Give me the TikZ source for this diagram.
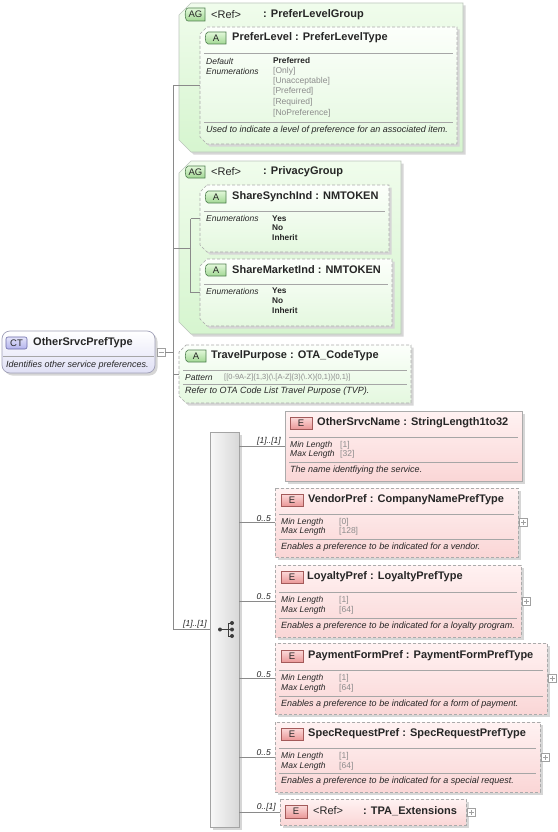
\documentclass[tikz,border=0pt]{standalone}
\usepackage{fontspec}
\setmainfont{Liberation Sans}
\usetikzlibrary{calc}
\definecolor{txt}{HTML}{262626}
\definecolor{valgray}{HTML}{8C8C8C}
\definecolor{lineg}{HTML}{8A8A8A}
\definecolor{sepg}{HTML}{A6A6A6}
\definecolor{dashg}{HTML}{ABABAB}
\definecolor{shadowg}{HTML}{D6D6D6}
\definecolor{agtop}{HTML}{F0FCEC}
\definecolor{agbot}{HTML}{D6F5CF}
\definecolor{agborder}{HTML}{BCC6BC}
\definecolor{atop}{HTML}{FCFFFB}
\definecolor{abot}{HTML}{E4F8DF}
\definecolor{etop}{HTML}{FFF2F2}
\definecolor{ebot}{HTML}{FAD6D6}
\definecolor{cttop}{HTML}{FFFFFF}
\definecolor{ctbot}{HTML}{E0E0F5}
\definecolor{ctborder}{HTML}{A0A0B8}
\definecolor{bAtop}{HTML}{E2F8DA}
\definecolor{bAbot}{HTML}{A2D894}
\definecolor{bAborder}{HTML}{4F7F4F}
\definecolor{bEtop}{HTML}{FCDADA}
\definecolor{bEbot}{HTML}{EA9898}
\definecolor{bEborder}{HTML}{A35A5A}
\definecolor{bCtop}{HTML}{E4E4FA}
\definecolor{bCbot}{HTML}{B2B2EC}
\definecolor{bCborder}{HTML}{6A6AA8}
\definecolor{seqL}{HTML}{F8F8F8}
\definecolor{seqR}{HTML}{D8D8D8}
\definecolor{seqB}{HTML}{A4A4A4}
\definecolor{pmg}{HTML}{A0A0A0}
\definecolor{icon}{HTML}{3C3C3C}

\newcommand\areanode[5]{\node[area, minimum width={(#4-#2)*1pt}, minimum height={(#5-#3)*1pt}] (#1) at ({(#2+#4)/2},{(#3+#5)/2}) {};}
\newcommand\chamshape[3]{\path[#3] ([xshift=#2pt]#1.north west) -- (#1.north east) -- (#1.south east) -- ([xshift=#2pt]#1.south west) -- ([yshift=#2pt]#1.south west) -- ([yshift=-#2pt]#1.north west) -- cycle;}
\newcommand\rectshape[2]{\path[#2] (#1.north west) rectangle (#1.south east);}
\newcommand\tabbadge[7]{%
  \path[#2] (#3+4,#4) -- (#5,#4) -- (#5,#6) -- (#3+4,#6) .. controls (#3+0.3,#6) and (#3+0.3,#4) .. (#3+4,#4) -- cycle;
  \node[bdgt] (#1) at ({(#3+#5)/2+1},{(#4+#6)/2}) {#7};}
\newcommand\rbadge[7]{%
  \path[#2] (#3,#4) rectangle (#5,#6);
  \node[bdgt] (#1) at ({(#3+#5)/2},{(#4+#6)/2}) {#7};}
\newcommand\plusbox[2]{%
  \node[area, pm, minimum size=8pt] (#1) at (#2) {};
  \draw[pmline] ([xshift=-2.5pt]#1.center) -- ([xshift=2.5pt]#1.center) ([yshift=-2.5pt]#1.center) -- ([yshift=2.5pt]#1.center);}
\newcommand\minusbox[2]{%
  \node[area, pm, minimum size=8pt] (#1) at (#2) {};
  \draw[pmline] ([xshift=-2.5pt]#1.center) -- ([xshift=2.5pt]#1.center);}

\tikzset{
  area/.style={inner sep=0pt, outer sep=0pt, draw=none, rectangle},
  conn/.style={draw=lineg, line width=0.7pt},
  shadowf/.style={fill=shadowg, draw=none, transform canvas={shift={(2.5pt,-2.5pt)}}},
  agfill/.style={top color=agtop, bottom color=agbot, draw=agborder, line width=0.7pt},
  afill/.style={top color=atop, bottom color=abot, draw=dashg, dash pattern=on 3pt off 2pt, line width=0.7pt},
  efill/.style={top color=etop, bottom color=ebot, draw=dashg, line width=0.7pt},
  edash/.style={efill, dash pattern=on 3pt off 2pt},
  ctfill/.style={top color=cttop, bottom color=ctbot, draw=ctborder, line width=0.7pt, rounded corners=8pt},
  seqfill/.style={left color=seqL, right color=seqR, draw=seqB, line width=0.7pt},
  sepl/.style={draw=sepg, line width=0.6pt},
  ttl/.style={anchor=west, inner sep=0pt, text=txt, font=\fontsize{11}{13}\selectfont\bfseries},
  reft/.style={anchor=west, inner sep=0pt, text=txt, font=\fontsize{11}{13}\selectfont},
  lbl/.style={anchor=west, inner sep=0pt, text=txt, font=\fontsize{8.5}{10}\selectfont\itshape},
  gval/.style={anchor=west, inner sep=0pt, text=valgray, font=\fontsize{8.5}{10}\selectfont},
  pval/.style={anchor=west, inner sep=0pt, text=valgray, font=\fontsize{7.5}{9}\selectfont},
  bval/.style={anchor=west, inner sep=0pt, text=txt, font=\fontsize{8.3}{10}\selectfont\bfseries},
  dsc/.style={anchor=west, inner sep=0pt, text=txt, font=\fontsize{9}{10.5}\selectfont\itshape},
  card/.style={anchor=south east, inner sep=1pt, text=txt, font=\fontsize{8.5}{10}\selectfont\itshape},
  bdgt/.style={inner sep=0pt, text=txt, font=\fontsize{9.5}{10}\selectfont},
  badgeA/.style={top color=bAtop, bottom color=bAbot, draw=bAborder, line width=0.6pt},
  badgeE/.style={top color=bEtop, bottom color=bEbot, draw=bEborder, line width=0.6pt},
  badgeC/.style={top color=bCtop, bottom color=bCbot, draw=bCborder, line width=0.6pt, rounded corners=2pt},
  pm/.style={draw=pmg, fill=white, line width=0.5pt},
  pmline/.style={draw=pmg, line width=0.5pt},
}

\begin{document}
\begin{tikzpicture}[x=1pt,y=-1pt]
\useasboundingbox (0,0) rectangle (557,832);
\fill[white] (0,0) rectangle (557,832);

% ---------- AG PreferLevelGroup ----------
\areanode{ag1}{179}{3}{463}{152}
\chamshape{ag1}{12}{shadowf}
\chamshape{ag1}{12}{agfill}
\tabbadge{agb1}{badgeA}{184}{8}{205}{21}{AG}
\node[reft] (ag1ref) at (211,14.5) {<Ref>};
\node[ttl] (ag1name) at (263,14.5) {: PreferLevelGroup};

\areanode{pl}{200}{27}{457}{144}
\chamshape{pl}{7}{shadowf}
\chamshape{pl}{7}{afill}
\tabbadge{plb}{badgeA}{204}{32}{226}{44}{A}
\node[ttl] (pltitle) at (232,38) {PreferLevel : PreferLevelType};
\draw[sepl] (204,53) -- (453,53);
\node[lbl] (pldef) at (206,61) {Default};
\node[lbl] (plenum) at (206,71) {Enumerations};
\node[bval] (plv0) at (273,61) {Preferred};
\node[gval] (plv1) at (273,71) {[Only]};
\node[gval] (plv2) at (273,81) {[Unacceptable]};
\node[gval] (plv3) at (273,91.5) {[Preferred]};
\node[gval] (plv4) at (273,102) {[Required]};
\node[gval] (plv5) at (273,113) {[NoPreference]};
\draw[sepl] (204,122) -- (453,122);
\node[dsc] (pldesc) at (206,130) {Used to indicate a level of preference for an associated item.};

% ---------- AG PrivacyGroup ----------
\areanode{ag2}{179}{161}{401}{334}
\chamshape{ag2}{12}{shadowf}
\chamshape{ag2}{12}{agfill}
\tabbadge{agb2}{badgeA}{184}{166}{205}{178}{AG}
\node[reft] (ag2ref) at (211,172) {<Ref>};
\node[ttl] (ag2name) at (263,172) {: PrivacyGroup};

\areanode{ssi}{200}{185}{389}{252}
\chamshape{ssi}{7}{shadowf}
\chamshape{ssi}{7}{afill}
\tabbadge{ssib}{badgeA}{204}{191}{226}{203}{A}
\node[ttl] (ssititle) at (232,197) {ShareSynchInd : NMTOKEN};
\draw[sepl] (204,211) -- (385,211);
\node[lbl] (ssienum) at (206,218.5) {Enumerations};
\node[bval] (ssiv1) at (272,218.5) {Yes};
\node[bval] (ssiv2) at (272,228) {No};
\node[bval] (ssiv3) at (272,238) {Inherit};

\areanode{smi}{200}{259}{392}{326}
\chamshape{smi}{7}{shadowf}
\chamshape{smi}{7}{afill}
\tabbadge{smib}{badgeA}{204}{264}{226}{276}{A}
\node[ttl] (smititle) at (232,270) {ShareMarketInd : NMTOKEN};
\draw[sepl] (204,284) -- (388,284);
\node[lbl] (smienum) at (206,291) {Enumerations};
\node[bval] (smiv1) at (272,291) {Yes};
\node[bval] (smiv2) at (272,301) {No};
\node[bval] (smiv3) at (272,311) {Inherit};

% ---------- TravelPurpose ----------
\areanode{tp}{179}{345}{411}{403}
\chamshape{tp}{7}{shadowf}
\chamshape{tp}{7}{afill}
\tabbadge{tpb}{badgeA}{184}{350}{206}{362}{A}
\node[ttl] (tptitle) at (211,356) {TravelPurpose : OTA\_CodeType};
\draw[sepl] (183,370.5) -- (407,370.5);
\node[lbl] (tppat) at (185,377.5) {Pattern};
\node[pval] (tppatv) at (224,377.5) {[[0-9A-Z]\{1,3\}(\textbackslash.[A-Z]\{3\}(\textbackslash.X)\{0,1\})\{0,1\}]};
\draw[sepl] (183,384) -- (407,384);
\node[dsc] (tpdesc) at (185,391.5) {Refer to OTA Code List Travel Purpose (TVP).};

% ---------- Complex type ----------
\areanode{ct}{2}{331}{155}{373}
\path[fill=shadowg, rounded corners=8pt, transform canvas={shift={(2.5pt,-2.5pt)}}] (ct.north west) rectangle (ct.south east);
\rectshape{ct}{ctfill}
\rbadge{ctb}{badgeC}{6}{337}{27}{349}{CT}
\node[ttl] (cttitle) at (33,343) {OtherSrvcPrefType};
\draw[sepl] (3,356.5) -- (154,356.5);
\node[dsc] (ctdesc) at (6,365) {Identifies other service preferences.};
\minusbox{ctm}{[xshift=6pt]ct.east}

% ---------- Sequence ----------
\areanode{seq}{210}{432}{239}{827}
\rectshape{seq}{shadowf}
\rectshape{seq}{seqfill}
\fill[icon] (220,629.5) circle (2);
\draw[icon, line width=0.9pt] (220,629.5) -- (232,629.5) (228,623) -- (228,636)
  (228,623) -- (232,623) (228,636) -- (232,636);
\fill[icon] (232,623) circle (2) (232,629.5) circle (2) (232,636) circle (2);

% ---------- Elements ----------
\areanode{osn}{285}{411}{522}{481}
\rectshape{osn}{shadowf}
\rectshape{osn}{efill}
\rbadge{osnb}{badgeE}{290}{417}{312}{429}{E}
\node[ttl] (osntitle) at (317,423) {OtherSrvcName : StringLength1to32};
\draw[sepl] (289,437) -- (518,437);
\node[lbl] (osnmin) at (290,445) {Min Length};
\node[lbl] (osnmax) at (290,454) {Max Length};
\node[gval] (osnminv) at (340,445) {[1]};
\node[gval] (osnmaxv) at (340,454) {[32]};
\draw[sepl] (289,462) -- (518,462);
\node[dsc] (osndesc) at (290,470) {The name identfiying the service.};

\areanode{vp}{275}{488}{518}{557}
\rectshape{vp}{shadowf}
\rectshape{vp}{edash}
\rbadge{vpb}{badgeE}{281}{494}{303}{506}{E}
\node[ttl] (vptitle) at (308,500) {VendorPref : CompanyNamePrefType};
\draw[sepl] (279,514) -- (514,514);
\node[lbl] (vpmin) at (281,522) {Min Length};
\node[lbl] (vpmax) at (281,531.5) {Max Length};
\node[gval] (vpminv) at (339,522) {[0]};
\node[gval] (vpmaxv) at (339,531.5) {[128]};
\draw[sepl] (279,539.5) -- (514,539.5);
\node[dsc] (vpdesc) at (281,547.5) {Enables a preference to be indicated for a vendor.};
\plusbox{vpp}{[xshift=5.5pt]vp.east}

\areanode{lp}{275}{565}{521}{637}
\rectshape{lp}{shadowf}
\rectshape{lp}{edash}
\rbadge{lpb}{badgeE}{281}{571}{303}{583}{E}
\node[ttl] (lptitle) at (307,577) {LoyaltyPref : LoyaltyPrefType};
\draw[sepl] (279,592) -- (517,592);
\node[lbl] (lpmin) at (281,600) {Min Length};
\node[lbl] (lpmax) at (281,610) {Max Length};
\node[gval] (lpminv) at (339,600) {[1]};
\node[gval] (lpmaxv) at (339,610) {[64]};
\draw[sepl] (279,618) -- (517,618);
\node[dsc] (lpdesc) at (281,626) {Enables a preference to be indicated for a loyalty program.};
\plusbox{lpp}{[xshift=5.5pt]lp.east}

\areanode{pfp}{275}{643}{547}{714}
\rectshape{pfp}{shadowf}
\rectshape{pfp}{edash}
\rbadge{pfpb}{badgeE}{281}{650}{303}{662}{E}
\node[ttl] (pfptitle) at (308,656) {PaymentFormPref : PaymentFormPrefType};
\draw[sepl] (279,670) -- (543,670);
\node[lbl] (pfpmin) at (281,678) {Min Length};
\node[lbl] (pfpmax) at (281,688) {Max Length};
\node[gval] (pfpminv) at (339,678) {[1]};
\node[gval] (pfpmaxv) at (339,688) {[64]};
\draw[sepl] (279,696) -- (543,696);
\node[dsc] (pfpdesc) at (281,704) {Enables a preference to be indicated for a form of payment.};
\plusbox{pfpp}{[xshift=5.5pt]pfp.east}

\areanode{srp}{275}{722}{540}{792}
\rectshape{srp}{shadowf}
\rectshape{srp}{edash}
\rbadge{srpb}{badgeE}{281}{728}{303}{740}{E}
\node[ttl] (srptitle) at (308,734) {SpecRequestPref : SpecRequestPrefType};
\draw[sepl] (279,748.5) -- (536,748.5);
\node[lbl] (srpmin) at (281,756.5) {Min Length};
\node[lbl] (srpmax) at (281,766) {Max Length};
\node[gval] (srpminv) at (339,756.5) {[1]};
\node[gval] (srpmaxv) at (339,766) {[64]};
\draw[sepl] (279,773.5) -- (536,773.5);
\node[dsc] (srpdesc) at (281,781.5) {Enables a preference to be indicated for a special request.};
\plusbox{srpp}{[xshift=5.5pt]srp.east}

\areanode{tpa}{280}{799}{466}{825}
\rectshape{tpa}{shadowf}
\rectshape{tpa}{edash}
\rbadge{tpab}{badgeE}{285}{805}{307}{818}{E}
\node[reft] (tparef) at (313,811) {<Ref>};
\node[ttl] (tpaname) at (363,811) {: TPA\_Extensions};
\plusbox{tpap}{[xshift=5.5pt]tpa.east}

% ---------- Connectors ----------
\coordinate (trk) at (173,85.5);
\draw[conn] (trk) -- (trk |- seq.west);
\draw[conn] (ctm.east) -- (ctm.east -| trk);
\draw[conn] (pl.west -| trk) -- (pl.west);
\coordinate (br2) at (190.5,248);
\draw[conn] (br2 -| trk) -- (br2);
\draw[conn] (ssi.west -| br2) -- (smi.west -| br2);
\draw[conn] (ssi.west -| br2) -- (ssi.west);
\draw[conn] (smi.west -| br2) -- (smi.west);
\draw[conn] (tp.west -| trk) -- (tp.west);
\draw[conn] (seq.west -| trk) -- (seq.west);
\node[card] (cseq) at ([xshift=-2pt]seq.west) {[1]..[1]};

\draw[conn] (seq.east |- osn.west) -- (osn.west);
\node[card] (cosn) at ([xshift=-3pt]osn.west) {[1]..[1]};
\draw[conn] (seq.east |- vp.west) -- (vp.west);
\node[card] (cvp) at ([xshift=-3pt]vp.west) {0..5};
\draw[conn] (seq.east |- lp.west) -- (lp.west);
\node[card] (clp) at ([xshift=-3pt]lp.west) {0..5};
\draw[conn] (seq.east |- pfp.west) -- (pfp.west);
\node[card] (cpfp) at ([xshift=-3pt]pfp.west) {0..5};
\draw[conn] (seq.east |- srp.west) -- (srp.west);
\node[card] (csrp) at ([xshift=-3pt]srp.west) {0..5};
\draw[conn] (seq.east |- tpa.west) -- (tpa.west);
\node[card] (ctpa) at ([xshift=-3pt]tpa.west) {0..[1]};
\end{tikzpicture}
\end{document}
